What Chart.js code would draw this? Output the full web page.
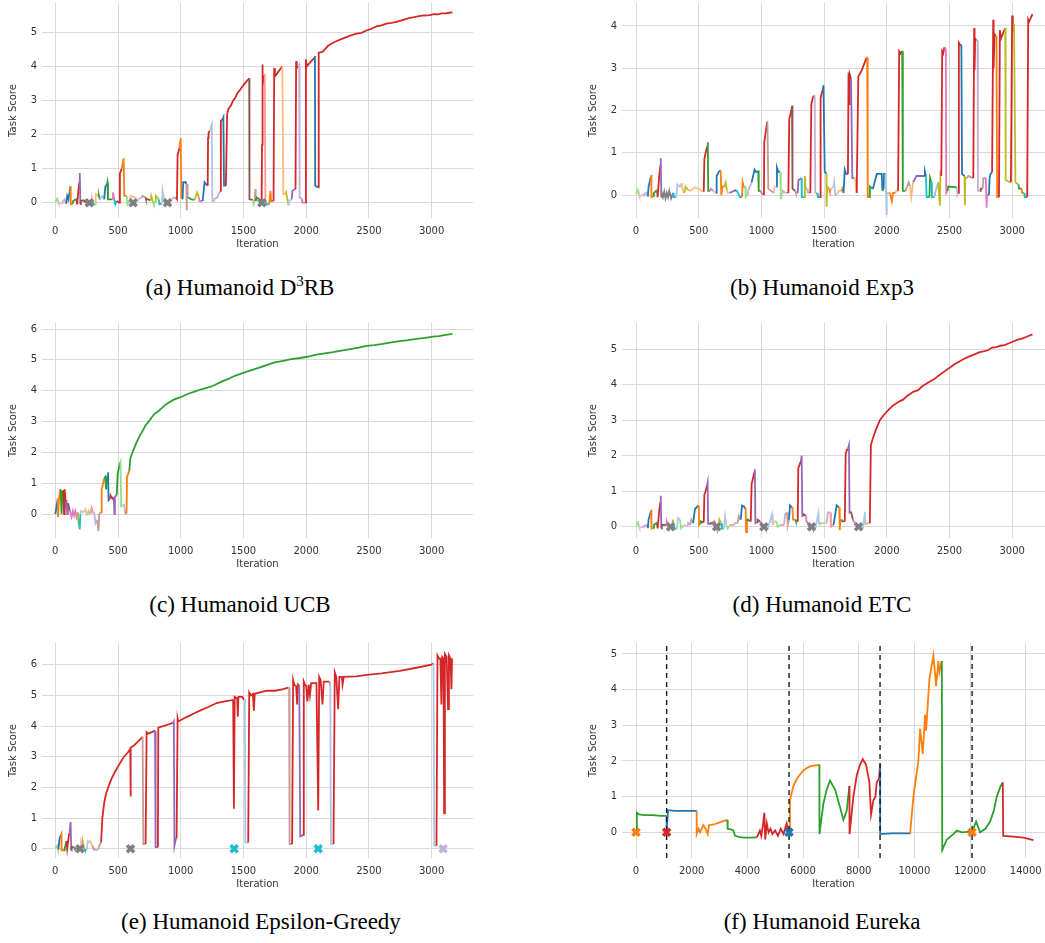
<!DOCTYPE html>
<html>
<head>
<meta charset="utf-8">
<script src="https://cdn.jsdelivr.net/npm/chart.js@4.4.1/dist/chart.umd.min.js"></script>
<style>
  html, body { margin: 0; padding: 0; background: #fff; overflow: hidden; width: 1045px; height: 943px; }
  canvas { position: absolute; }
  .cap { position: absolute; font-family: "Liberation Serif", "Times New Roman", serif; font-size: 23px; color: #000;
         white-space: nowrap; transform: translate(-50%, -50%); }
  .cap sup { font-size: 15px; vertical-align: 9px; line-height: 0; }
</style>
</head>
<body>
<div class="cap" style="left:240px;top:288px">(a) Humanoid D<sup>3</sup>RB</div>
<div class="cap" style="left:822px;top:288px">(b) Humanoid Exp3</div>
<div class="cap" style="left:240px;top:605px">(c) Humanoid UCB</div>
<div class="cap" style="left:822px;top:605px">(d) Humanoid ETC</div>
<div class="cap" style="left:261px;top:922px">(e) Humanoid Epsilon-Greedy</div>
<div class="cap" style="left:822px;top:922px">(f) Humanoid Eureka</div>
<script>
(function () {
  'use strict';

  // tab20 colours, indexed by arm id in the segment lists below
  const PALETTE = ['#1f77b4', '#aec7e8', '#ff7f0e', '#ffbb78', '#2ca02c', '#98df8a', '#d62728', '#ff9896',
    '#9467bd', '#c5b0d5', '#8c564b', '#c49c94', '#e377c2', '#f7b6d2', '#7f7f7f', '#c7c7c7',
    '#bcbd22', '#dbdb8d', '#17becf', '#9edae5'];

  const iterTicks = [0, 500, 1000, 1500, 2000, 2500, 3000];
  const eurekaTicks = [0, 2000, 4000, 6000, 8000, 10000, 12000, 14000];
  const score4 = [0, 1, 2, 3, 4];
  const score5 = [0, 1, 2, 3, 4, 5];
  const score6 = [0, 1, 2, 3, 4, 5, 6];

  // Each segment: [arm, [iter, score, iter, score, ...]] in training order.
  const aSegs = [
    [5, [0, 0.02, 15, 0.12, 25, 0.0]], [13, [28, -0.03, 45, 0.0, 55, -0.02]], [9, [58, 0.02, 75, 0.1, 85, -0.03]],
    [0, [88, 0.0, 95, 0.2, 105, 0.1, 120, 0.48]], [2, [122, 0.48, 124, -0.05, 140, -0.03]], [4, [142, 0.05, 165, 0.1, 172, 0.05]],
    [6, [174, -0.05, 185, 0.4, 193, 0.6]], [8, [195, 0.87, 200, -0.05]], [10, [203, 0.05, 225, 0.07, 245, 0.0]],
    [14, [248, 0.05, 270, -0.02, 290, 0.0]], [13, [292, 0.15, 300, 0.05]], [18, [303, -0.05, 320, -0.05]],
    [3, [322, 0.25, 345, 0.2]], [4, [347, 0.22, 355, 0.08]], [1, [358, 0.12, 375, 0.2, 390, 0.1]],
    [0, [395, 0.1, 398, 0.45, 412, 0.55]], [4, [415, 0.6, 420, 0.1, 455, 0.1]], [12, [460, 0.3, 470, 0.1]],
    [18, [478, -0.05, 490, 0.05]], [6, [510, 0.0, 515, 0.85, 530, 1.0]], [2, [535, 1.1, 545, 1.3, 550, 0.2, 570, 0.2]],
    [5, [575, -0.05, 595, 0.1]], [3, [600, 0.2, 640, 0.15]], [1, [650, 0.05, 680, 0.15, 690, 0.15]],
    [11, [695, 0.2, 720, 0.15]], [10, [722, 0.12, 760, 0.07]], [16, [765, 0.2, 780, 0.0]], [5, [785, -0.05, 800, 0.05]],
    [16, [802, 0.2, 825, 0.1]], [18, [830, -0.05, 850, -0.03]], [1, [855, 0.37, 870, 0.05]], [14, [875, 0.0, 905, 0.0]],
    [13, [910, 0.1, 935, 0.1]], [9, [940, 0.15, 960, 0.15]], [6, [970, 0.1, 975, 1.4, 990, 1.6]],
    [2, [995, 1.8, 1000, 1.9, 1005, 0.15, 1015, 0.1]], [0, [1020, 0.6, 1040, 0.6, 1045, 0.55]],
    [11, [1048, -0.22, 1050, 0.55, 1055, 0.15]], [4, [1060, 0.15, 1085, 0.1, 1110, 0.08]], [16, [1130, 0.3, 1145, 0.15]],
    [12, [1150, 0.05, 1175, 0.05]], [0, [1190, 0.6, 1200, 0.55, 1215, 0.5]], [6, [1218, 1.9, 1222, 2.05, 1232, 2.1]],
    [1, [1240, 2.2, 1248, 2.3, 1252, 0.05, 1262, 0.05]], [9, [1265, 0.1, 1290, 0.15, 1315, 0.35]],
    [6, [1320, 2.4, 1335, 2.45]], [0, [1340, 2.5, 1345, 0.5, 1360, 0.5]],
    [6, [1370, 2.6, 1380, 2.75, 1400, 2.85, 1418, 3.0, 1435, 3.08, 1450, 3.2, 1471, 3.3, 1490, 3.4, 1511, 3.5, 1530, 3.58, 1546, 3.65]],
    [10, [1548, 0.1, 1575, 0.08]], [5, [1580, -0.05, 1590, 0.05]], [11, [1594, 0.4, 1598, 0.05]],
    [4, [1605, 0.15, 1625, 0.1]], [14, [1630, 0.0, 1645, 0.0]], [6, [1648, 1.7, 1650, 4.05, 1655, 3.4, 1660, 3.75]],
    [7, [1670, 3.75, 1675, 0.05]], [18, [1685, -0.05, 1705, -0.05]], [2, [1715, 0.35, 1720, 0.05, 1740, 0.05]],
    [6, [1745, 3.95, 1750, 3.7, 1780, 3.85, 1810, 4.0]], [3, [1815, 4.0, 1818, 0.25, 1835, 0.25]],
    [16, [1840, 0.3, 1860, -0.08]], [1, [1865, 0.05, 1885, 0.1]], [8, [1890, 0.35, 1915, 0.4]],
    [6, [1920, 4.15, 1925, 3.95, 1935, 4.0]], [9, [1944, 4.05, 1948, 0.15, 1965, 0.12]], [12, [1970, 0.0, 1995, 0.0]],
    [6, [1998, 4.2, 2005, 4.0, 2040, 4.15, 2069, 4.25]], [0, [2070, 4.3, 2072, 0.5, 2096, 0.45]],
    [6, [2100, 4.4, 2130, 4.42, 2175, 4.6, 2230, 4.72, 2295, 4.82, 2350, 4.9, 2401, 4.96, 2440, 4.98, 2481, 5.05,
      2520, 5.1, 2560, 5.17, 2600, 5.2, 2640, 5.25, 2680, 5.27, 2720, 5.3, 2780, 5.37, 2826, 5.42, 2860, 5.44,
      2900, 5.47, 2940, 5.49, 2985, 5.5, 3020, 5.53, 3050, 5.52, 3080, 5.55, 3110, 5.55, 3140, 5.57, 3166, 5.58]]
  ];
  const aMarks = [[271, 14], [621, 14], [895, 14], [1647, 14]];

  const bSegs = [
    [5, [0, 0.02, 15, 0.12, 25, 0.0]], [13, [28, -0.03, 50, 0.0, 60, -0.02]], [9, [62, 0.02, 80, 0.05, 90, -0.02]],
    [0, [95, 0.0, 100, 0.2, 120, 0.45]], [2, [122, 0.48, 124, -0.05, 140, -0.03]], [4, [142, 0.05, 162, 0.1, 170, 0.05]],
    [6, [172, -0.05, 185, 0.45, 195, 0.7]], [8, [197, 0.87, 202, -0.05]],
    [14, [205, 0.05, 215, -0.05, 225, 0.08, 235, -0.08, 245, 0.05, 255, -0.05, 265, 0.1, 280, -0.08, 295, 0.05]],
    [18, [300, -0.05, 320, -0.05]], [1, [330, 0.25, 350, 0.2, 365, 0.28]], [3, [370, 0.15, 385, 0.05]],
    [16, [395, 0.2, 415, 0.12]], [3, [430, 0.1, 470, 0.18, 500, 0.15, 520, 0.1, 540, 0.08]],
    [6, [545, 0.85, 555, 1.0, 568, 1.15]], [4, [572, 1.25, 576, 0.1, 590, 0.1]], [12, [598, 0.15, 615, 0.1]],
    [13, [620, 0.1, 640, 0.05]], [0, [643, 0.45, 660, 0.55, 675, 0.58]], [2, [677, 0.58, 680, 0.0, 690, 0.2, 705, 0.2]],
    [16, [715, 0.3, 725, 0.1]], [13, [730, 0.05, 750, 0.05]], [8, [755, 0.05, 780, 0.1]], [10, [785, 0.1, 800, 0.12]],
    [18, [829, -0.05, 845, -0.05]], [2, [850, 0.3, 858, 0.2, 870, 0.2]], [5, [875, -0.05, 890, 0.0]],
    [9, [895, 0.1, 922, 0.3]], [0, [945, 0.6, 955, 0.55, 975, 0.55]], [4, [977, 0.58, 980, 0.1, 995, 0.1]],
    [12, [1000, 0.05, 1020, 0.0]], [6, [1023, 1.25, 1035, 1.5, 1045, 1.72]],
    [11, [1048, 1.75, 1055, 0.15, 1075, 0.1, 1100, 0.05]], [13, [1105, 0.2, 1120, 0.2]],
    [0, [1124, 0.65, 1135, 0.55, 1150, 0.55]], [5, [1155, -0.1, 1165, 0.05]], [9, [1170, 0.1, 1195, 0.05, 1215, 0.05]],
    [6, [1222, 1.8, 1235, 1.95, 1244, 2.1]], [10, [1246, 2.12, 1250, 0.15, 1270, 0.1]], [11, [1275, 0.05, 1290, 0.05]],
    [8, [1295, 0.35, 1320, 0.4]], [18, [1322, -0.05, 1340, -0.05]], [16, [1347, 0.45, 1352, 0.15, 1365, 0.15]],
    [9, [1370, 0.05, 1390, 0.05]], [6, [1398, 2.15, 1410, 2.3, 1419, 2.35]], [9, [1425, 2.35, 1430, 0.05, 1445, 0.05]],
    [18, [1450, -0.05, 1468, -0.05]], [6, [1472, 2.3, 1485, 2.45, 1490, 2.5]], [0, [1495, 2.6, 1505, 0.55, 1518, 0.5]],
    [16, [1520, -0.28, 1525, 0.2, 1540, 0.15]], [2, [1545, 0.1, 1555, 0.15]], [13, [1560, 0.15, 1575, 0.2]],
    [1, [1580, 0.3, 1590, 0.0, 1610, 0.05]], [3, [1615, 0.1, 1640, 0.1]], [2, [1645, 0.15, 1655, 0.05]],
    [0, [1665, 0.6, 1675, 0.5, 1690, 0.5]], [6, [1695, 2.9, 1700, 2.15, 1705, 2.85, 1715, 2.75]],
    [8, [1720, 2.75, 1725, 0.4, 1740, 0.4]], [3, [1745, 0.42, 1760, 0.05]], [6, [1773, 2.8, 1800, 2.95, 1839, 3.25]],
    [2, [1844, 3.25, 1848, -0.05, 1860, -0.05]], [4, [1865, 0.2, 1890, 0.15]], [0, [1920, 0.5, 1960, 0.5, 1965, 0.1]],
    [4, [1967, 0.1, 1975, 0.15]], [0, [1978, 0.5, 1990, 0.5]], [1, [1998, -0.45, 2000, 0.05, 2025, 0.05]],
    [2, [2040, -0.15, 2050, 0.05, 2070, 0.05]], [3, [2075, 0.1, 2090, 0.1]], [6, [2099, 3.4, 2110, 3.35, 2120, 3.4]],
    [4, [2123, 3.4, 2128, 0.1, 2150, 0.1]], [11, [2175, 0.3, 2185, 0.2]], [3, [2195, -0.05, 2210, 0.3]],
    [8, [2237, 0.45, 2290, 0.45, 2300, 0.45]], [0, [2304, 0.55, 2312, 0.45]], [18, [2318, -0.05, 2340, -0.05]],
    [4, [2345, 0.4, 2355, 0.3]], [18, [2360, -0.05, 2380, -0.05]], [9, [2390, 0.1, 2410, 0.3]],
    [16, [2424, -0.25, 2428, 0.5, 2435, 0.45]], [6, [2442, 3.4, 2450, 3.35, 2460, 3.5]],
    [12, [2471, 3.45, 2474, 0.05, 2485, 0.1]], [4, [2490, 0.2, 2560, 0.18]], [1, [2562, 0.0, 2570, 0.05]],
    [6, [2575, 3.6, 2585, 3.55, 2595, 3.55]], [0, [2597, 3.55, 2600, 0.5, 2620, 0.45]],
    [16, [2623, -0.25, 2626, 0.4, 2640, 0.4]], [11, [2650, 0.45, 2690, 0.4]],
    [6, [2697, 3.95, 2700, 2.95, 2705, 3.7, 2715, 3.65]], [9, [2724, 3.65, 2727, 0.1, 2745, 0.1]],
    [10, [2750, 0.15, 2765, 0.15]], [11, [2770, 0.4, 2790, 0.4]], [12, [2796, -0.3, 2800, 0.0, 2815, 0.0]],
    [0, [2820, 0.4, 2828, 0.5, 2840, 0.55]], [6, [2849, 4.15, 2852, 3.0, 2860, 3.8, 2870, 3.75]],
    [2, [2875, 3.75, 2880, -0.05, 2895, -0.05]], [6, [2902, 3.9, 2910, 3.7, 2930, 3.85, 2945, 3.95]],
    [16, [2947, 3.95, 2950, 0.35, 2990, 0.3]], [6, [3000, 4.25, 3005, 3.85, 3015, 4.05]],
    [16, [3022, 4.05, 3026, 0.3, 3050, 0.25]], [4, [3055, 0.15, 3075, 0.15]], [2, [3080, 0.05, 3095, 0.05]],
    [18, [3100, -0.05, 3120, -0.05]], [6, [3128, 4.15, 3135, 4.1, 3162, 4.28]]
  ];
  const bMarks = [];

  const cSegs = [
    [0, [0, 0.0, 20, 0.5]], [2, [22, -0.1, 30, 0.5, 42, 0.8]], [4, [45, 0.8, 50, 0.0, 57, 0.75]],
    [6, [65, 0.75, 70, 0.0, 75, 0.8, 85, 0.2]], [8, [90, 0.45, 95, 0.0, 100, 0.35]], [10, [105, 0.3, 115, 0.1]],
    [12, [120, 0.05, 130, -0.1, 140, 0.1, 150, -0.05, 160, 0.1, 170, -0.1, 180, 0.05]], [16, [185, -0.25, 190, -0.15]],
    [18, [195, -0.5, 200, 0.0]], [1, [205, 0.1, 225, 0.05]], [3, [240, 0.15, 255, -0.05]], [5, [265, 0.1, 280, 0.0]],
    [7, [290, 0.2, 300, 0.05, 310, 0.05]], [9, [320, -0.3, 335, -0.2]], [11, [345, -0.55, 350, 0.0, 358, 0.05]],
    [2, [365, 0.05, 370, 0.8, 390, 1.15]], [4, [398, 1.2, 405, 0.8, 415, 1.25]], [0, [420, 1.35, 425, 0.45, 435, 0.5]],
    [6, [440, 0.6, 455, 0.5, 465, 0.55]], [8, [472, 0.0, 475, 0.55, 490, 0.62]], [4, [497, 1.3, 505, 1.45, 515, 1.65]],
    [5, [520, 1.7, 525, 0.25, 540, 0.28]], [1, [548, 0.3, 558, 0.0]], [2, [568, 0.05, 572, 1.2, 590, 1.4]],
    [4, [598, 1.8, 620, 2.05, 645, 2.3, 675, 2.55, 700, 2.72, 720, 2.88, 754, 3.05, 790, 3.25, 821, 3.33, 855, 3.46,
      887, 3.57, 940, 3.7, 993, 3.78, 1060, 3.9, 1110, 3.97, 1153, 4.03, 1200, 4.08, 1259, 4.16, 1330, 4.3,
      1380, 4.38, 1418, 4.46, 1460, 4.52, 1500, 4.58, 1551, 4.65, 1620, 4.74, 1684, 4.83, 1750, 4.92, 1817, 4.97,
      1880, 5.02, 1950, 5.06, 2010, 5.1, 2082, 5.17, 2150, 5.21, 2215, 5.25, 2280, 5.3, 2350, 5.35, 2420, 5.4,
      2481, 5.45, 2545, 5.48, 2610, 5.52, 2680, 5.57, 2746, 5.61, 2810, 5.64, 2880, 5.68, 2950, 5.71, 3012, 5.75,
      3060, 5.77, 3100, 5.8, 3166, 5.84]]
  ];
  const cMarks = [];

  const dSegs = [
    [5, [0, 0.02, 15, 0.12, 25, 0.0]], [13, [28, -0.03, 50, 0.0, 60, -0.02]], [9, [62, 0.02, 80, 0.05, 90, -0.02]],
    [0, [95, 0.0, 100, 0.2, 120, 0.45]], [2, [122, 0.48, 124, -0.05, 140, -0.03]], [4, [142, 0.05, 162, 0.1, 170, 0.05]],
    [6, [172, -0.05, 185, 0.45, 195, 0.7]], [8, [197, 0.87, 202, -0.05]], [10, [205, 0.05, 240, 0.05]],
    [12, [245, 0.15, 255, 0.05]], [14, [260, 0.0, 290, 0.0]], [16, [293, 0.2, 300, 0.05]], [18, [305, -0.05, 325, -0.05]],
    [1, [335, 0.25, 350, 0.2]], [5, [360, -0.05, 380, 0.05]], [13, [385, 0.05, 410, 0.0]], [9, [415, 0.1, 430, 0.05]],
    [11, [440, 0.2, 455, 0.1]], [0, [470, 0.5, 485, 0.55, 497, 0.6]], [2, [500, 0.58, 503, 0.05, 515, 0.1]],
    [4, [518, 0.15, 540, 0.12]], [6, [545, 0.9, 555, 1.0, 565, 1.15]], [8, [571, 1.25, 575, 0.08, 590, 0.08]],
    [10, [595, 0.1, 620, 0.12]], [12, [625, 0.15, 640, 0.05]], [14, [643, 0.0, 660, 0.0]], [16, [665, 0.2, 680, 0.1]],
    [18, [685, -0.05, 700, -0.05]], [1, [710, 0.3, 720, 0.05]], [5, [730, -0.05, 750, 0.05]], [7, [760, 0.05, 780, 0.05]],
    [9, [790, 0.1, 810, 0.1]], [11, [820, 0.3, 835, 0.2]], [0, [845, 0.6, 860, 0.58, 870, 0.5]],
    [2, [874, 0.55, 878, -0.15, 885, 0.15]], [4, [890, 0.2, 915, 0.15]], [6, [922, 1.2, 935, 1.4, 945, 1.55]],
    [8, [948, 1.62, 952, 0.1, 965, 0.12]], [10, [970, 0.2, 990, 0.15]], [12, [995, 0.1, 1010, 0.05]],
    [14, [1015, 0.0, 1030, 0.0]], [18, [1035, -0.05, 1050, -0.05]], [1, [1085, 0.35, 1090, 0.05]],
    [3, [1100, 0.15, 1120, 0.15]], [5, [1130, 0.0, 1150, 0.05]], [7, [1160, 0.05, 1180, 0.05]],
    [9, [1190, 0.35, 1205, 0.4]], [11, [1210, 0.05, 1220, 0.2]], [0, [1228, 0.6, 1240, 0.55, 1246, 0.55]],
    [2, [1248, 0.5, 1252, 0.2, 1270, 0.2]], [4, [1275, 0.15, 1290, 0.15]], [6, [1294, 1.65, 1305, 1.75, 1315, 1.85]],
    [8, [1321, 2.0, 1326, 0.3, 1335, 0.3]], [10, [1340, 0.35, 1355, 0.3]], [12, [1360, 0.15, 1380, 0.05]],
    [14, [1385, 0.0, 1405, 0.0]], [18, [1410, -0.05, 1430, -0.05]], [1, [1455, 0.38, 1460, 0.05]],
    [5, [1470, 0.1, 1490, 0.1]], [3, [1495, 0.1, 1520, 0.1]], [9, [1530, 0.4, 1550, 0.4]], [7, [1555, 0.0, 1575, 0.05]],
    [0, [1600, 0.6, 1615, 0.55, 1621, 0.55]], [2, [1625, -0.1, 1630, 0.2, 1640, 0.2]], [4, [1645, 0.15, 1665, 0.15]],
    [6, [1672, 2.05, 1680, 2.15, 1690, 2.2]], [8, [1698, 2.3, 1703, 0.4, 1715, 0.42]], [10, [1720, 0.42, 1730, 0.2]],
    [12, [1735, 0.15, 1760, 0.05]], [14, [1765, 0.0, 1785, 0.0]], [18, [1790, -0.05, 1810, -0.05]],
    [1, [1826, 0.42, 1830, 0.05]], [3, [1845, 0.1, 1865, 0.1]],
    [6, [1873, 2.3, 1890, 2.5, 1915, 2.75, 1945, 3.0, 1970, 3.12, 1998, 3.24, 2050, 3.42, 2105, 3.54, 2130, 3.58,
      2160, 3.68, 2211, 3.8, 2250, 3.85, 2280, 3.95, 2344, 4.09, 2380, 4.16, 2410, 4.25, 2477, 4.42, 2510, 4.5,
      2540, 4.58, 2575, 4.65, 2610, 4.72, 2645, 4.78, 2680, 4.83, 2742, 4.92, 2780, 4.95, 2810, 4.98, 2840, 5.05,
      2875, 5.06, 2905, 5.1, 2940, 5.12, 2975, 5.17, 3008, 5.22, 3045, 5.27, 3080, 5.3, 3120, 5.36, 3162, 5.42]]
  ];
  const dMarks = [[275, 14], [643, 14], [1020, 14], [1400, 14], [1775, 14]];

  const eSegs = [
    [5, [0, 0.02, 15, 0.1, 20, 0.0]], [0, [25, 0.0, 35, 0.35, 45, 0.45]], [2, [48, 0.48, 50, -0.05, 70, -0.05]],
    [4, [75, 0.0, 90, 0.25]], [6, [95, 0.0, 110, 0.5]], [8, [115, 0.6, 122, 0.87, 127, -0.05]],
    [10, [130, 0.05, 150, 0.05]], [14, [155, 0.0, 200, 0.0]], [13, [205, 0.25, 215, 0.1]], [16, [220, 0.2, 230, 0.0]],
    [18, [235, -0.05, 250, -0.05]], [1, [260, 0.25, 275, 0.2]], [3, [280, 0.25, 295, 0.1]], [11, [300, 0.05, 320, -0.05]],
    [9, [325, -0.05, 345, 0.0]], [11, [350, 0.1, 365, 0.2]],
    [6, [369, 0.2, 375, 1.0, 390, 1.5, 405, 1.8, 422, 2.0, 445, 2.25, 475, 2.5, 510, 2.75, 547, 3.0, 575, 3.12,
      598, 3.25, 600, 1.7, 602, 3.3, 622, 3.35, 640, 3.42, 661, 3.5, 680, 3.58, 696, 3.65]],
    [11, [698, 3.65, 702, 0.15, 720, 0.15]], [6, [728, 3.8, 740, 3.75, 770, 3.8, 795, 3.85]],
    [8, [797, 3.85, 802, 0.05, 818, 0.05]], [6, [821, 3.95, 860, 4.0, 900, 4.05, 938, 4.1]],
    [8, [945, 4.15, 950, 0.1, 960, 0.3, 967, 0.35]],
    [6, [975, 4.25, 980, 4.15, 1050, 4.3, 1100, 4.4, 1153, 4.5, 1220, 4.62, 1286, 4.75, 1350, 4.8, 1418, 4.85,
      1424, 1.3, 1430, 4.95, 1450, 4.9, 1455, 4.3, 1460, 4.95, 1490, 4.95, 1505, 4.85]],
    [1, [1511, 4.9, 1515, 0.2, 1538, 0.2]],
    [6, [1546, 5.1, 1560, 5.0, 1575, 5.05, 1583, 4.5, 1590, 5.05, 1684, 5.15, 1750, 5.15, 1817, 5.2, 1857, 5.25]],
    [11, [1864, 5.25, 1868, 0.15, 1888, 0.15]],
    [6, [1896, 5.5, 1905, 5.35, 1920, 5.3, 1928, 4.7, 1935, 5.35, 1945, 5.3]],
    [8, [1949, 5.3, 1953, 0.4, 1975, 0.45]],
    [6, [1981, 5.45, 1990, 5.35, 2000, 5.3, 2010, 4.8, 2020, 5.35, 2030, 5.0, 2040, 5.4, 2082, 5.4, 2096, 1.25,
      2104, 5.6, 2115, 5.5, 2130, 4.7, 2140, 5.45, 2185, 5.45]],
    [11, [2189, 5.35, 2192, 5.3]], [1, [2194, 5.3, 2198, 0.15, 2218, 0.15]],
    [6, [2228, 5.75, 2240, 5.6, 2255, 4.55, 2265, 5.6, 2285, 5.6, 2290, 5.35, 2300, 5.6, 2400, 5.62, 2481, 5.67,
      2600, 5.72, 2746, 5.8, 2879, 5.9, 2999, 6.0, 3015, 6.05]],
    [1, [3017, 6.05, 3021, 0.1, 3039, 0.1]],
    [6, [3047, 6.3, 3060, 6.2, 3070, 6.2, 3078, 4.7, 3085, 6.25, 3095, 6.2, 3100, 1.15, 3106, 6.35, 3120, 6.25,
      3131, 4.55, 3138, 6.3, 3150, 6.2, 3158, 5.2, 3163, 6.2]]
  ];
  const eMarks = [[197, 14], [600, 14], [1426, 18], [2096, 18], [3092, 9]];

  // Eureka uses the plain tab10 colours (blue 0, orange 2, green 4, red 6)
  const fSegs = [
    [4, [0, 0.0, 30, 0.55, 100, 0.5, 300, 0.48, 600, 0.48, 900, 0.46, 1100, 0.46]],
    [0, [1100, 0.0, 1150, 0.62, 1400, 0.6, 1800, 0.6, 2180, 0.6]],
    [2, [2180, -0.05, 2250, 0.1, 2300, 0.0, 2419, 0.2, 2500, 0.1, 2575, -0.05, 2620, 0.2, 2800, 0.22, 3000, 0.28, 3281, 0.35]],
    [4, [3293, 0.1, 3400, 0.08, 3500, 0.05, 3557, -0.1, 3700, -0.13, 3856, -0.15, 4100, -0.15, 4335, -0.14]],
    [6, [4395, -0.05, 4450, 0.05, 4500, -0.1, 4560, 0.2, 4611, 0.55, 4640, -0.2, 4700, 0.25, 4760, 0.0, 4830, 0.1,
      4900, -0.05, 5000, 0.05, 5100, -0.1, 5200, 0.1, 5300, -0.05, 5413, 0.25, 5470, 0.05]],
    [2, [5497, 0.0, 5530, 0.9, 5653, 1.3, 5780, 1.5, 5892, 1.62, 6000, 1.72, 6132, 1.8, 6300, 1.86, 6491, 1.88, 6587, 1.9]],
    [4, [6590, -0.05, 6730, 0.8, 6850, 1.2, 6970, 1.45, 7150, 1.2, 7329, 0.7, 7449, 0.35, 7569, 0.6, 7665, 1.3]],
    [6, [7670, -0.05, 7808, 1.0, 7930, 1.6, 8048, 1.9, 8144, 2.05, 8263, 1.9, 8383, 1.4, 8443, 0.5, 8527, 0.9,
      8600, 1.0, 8647, 1.4, 8730, 1.5, 8766, 1.9]],
    [0, [8770, 1.9, 8775, -0.05, 9200, -0.03, 9600, -0.03, 9844, -0.03]],
    [2, [9850, 0.0, 9964, 1.0, 10144, 2.0, 10204, 2.9, 10300, 2.2, 10383, 3.3, 10420, 2.85, 10539, 4.3, 10683, 4.95,
      10779, 4.1, 10862, 4.8, 10900, 4.5, 10982, 4.8]],
    [4, [10985, 4.7, 11000, -0.5, 11162, -0.2, 11401, -0.05, 11521, 0.05, 11701, 0.0, 12000, 0.02, 12072, 0.0,
      12216, 0.3, 12359, 0.0, 12550, 0.1, 12719, 0.3, 12850, 0.6, 12958, 1.0, 13100, 1.3, 13174, 1.4]],
    [6, [13180, 1.4, 13190, -0.1, 13557, -0.12, 13916, -0.15, 14275, -0.22]]
  ];
  const fMarks = [[0, 2], [1100, 6], [5497, 0], [12072, 2]];
  const fSwitches = [1100, 5497, 8766, 12072];

  const FONT = '"DejaVu Sans", Verdana, sans-serif';
  const INK = '#333333';
  const GRID = '#d9d9d9';

  function makePanel(p) {
    const [L, T, R, B] = p.area;
    const cx = L - 42, cy = T - 14, w = R - cx, h = B + 34 - cy;
    const cv = document.createElement('canvas');
    cv.width = w; cv.height = h;
    cv.style.left = cx + 'px'; cv.style.top = cy + 'px';
    cv.style.width = w + 'px'; cv.style.height = h + 'px';
    document.body.appendChild(cv);

    const datasets = [];
    let prev = null;
    p.segs.forEach(([arm, flat]) => {
      const data = prev ? [prev] : [];
      for (let k = 0; k < flat.length; k += 2) data.push({ x: flat[k], y: flat[k + 1] });
      prev = data[data.length - 1];
      datasets.push({ data, showLine: true, borderColor: PALETTE[arm], borderWidth: 1.8, pointRadius: 0,
        pointHoverRadius: 0, tension: 0 });
    });
    (p.switches || []).forEach((x) => {
      datasets.push({ data: [{ x, y: p.y[0] }, { x, y: p.y[1] }], showLine: true, borderColor: '#1a1a1a',
        borderWidth: 1.4, borderDash: [5, 4], pointRadius: 0, pointHoverRadius: 0 });
    });
    p.marks.forEach(([x, arm]) => {
      datasets.push({ data: [{ x, y: 0 }], showLine: false, pointStyle: 'crossRot', pointRadius: 5,
        pointBorderWidth: 3.5, pointBorderColor: PALETTE[arm], pointBackgroundColor: PALETTE[arm] });
    });
    // later datasets on top, like matplotlib
    datasets.forEach((d, i) => { d.order = -i; });

    const tickFont = { family: FONT, size: 10 };
    const useTicks = (vals) => (s) => { s.ticks = vals.map((v) => ({ value: v })); };
    new Chart(cv, {
      type: 'scatter',
      data: { datasets },
      options: {
        responsive: false, animation: false, devicePixelRatio: 1,
        // no auto padding: the marker sizes would otherwise shrink the plot area
        layout: { autoPadding: false, padding: { left: 0, top: 14, right: 0, bottom: 0 } },
        plugins: { legend: { display: false }, tooltip: { enabled: false } },
        scales: {
          x: {
            type: 'linear', min: p.x[0], max: p.x[1],
            afterBuildTicks: useTicks(p.xTicks),
            afterFit: (s) => { s.height = 34; s.paddingLeft = 0; s.paddingRight = 0; },
            grid: { color: GRID, lineWidth: 1, drawTicks: false },
            border: { display: false },
            ticks: { padding: 7, color: INK, font: tickFont, maxRotation: 0, autoSkip: false,
              callback: (v) => String(v) },
            title: { display: true, text: 'Iteration', color: INK, font: tickFont, padding: { top: 0, bottom: 2 } }
          },
          y: {
            type: 'linear', min: p.y[0], max: p.y[1],
            afterBuildTicks: useTicks(p.yTicks),
            afterFit: (s) => { s.width = 42; s.paddingTop = 0; s.paddingBottom = 0; },
            grid: { color: GRID, lineWidth: 1, drawTicks: false },
            border: { display: false },
            ticks: { padding: 5, color: INK, font: tickFont, autoSkip: false, callback: (v) => String(v) },
            title: { display: true, text: 'Task Score', color: INK, font: tickFont, padding: { top: 7, bottom: 0 } }
          }
        }
      }
    });
  }

  makePanel({ segs: aSegs, marks: aMarks, area: [42, 3, 473, 218], x: [-106, 3330], xTicks: iterTicks,
    y: [-0.449, 5.856], yTicks: score5 });
  makePanel({ segs: bSegs, marks: bMarks, area: [622, 3, 1045, 218], x: [-112, 3262], xTicks: iterTicks,
    y: [-0.544, 4.544], yTicks: score4 });
  makePanel({ segs: cSegs, marks: cMarks, area: [42, 323, 473, 538], x: [-106, 3330], xTicks: iterTicks,
    y: [-0.778, 6.195], yTicks: score6 });
  makePanel({ segs: dSegs, marks: dMarks, area: [622, 323, 1045, 538], x: [-112, 3262], xTicks: iterTicks,
    y: [-0.318, 5.741], yTicks: score5 });
  makePanel({ segs: eSegs, marks: eMarks, area: [42, 643, 473, 858], x: [-106, 3330], xTicks: iterTicks,
    y: [-0.303, 6.707], yTicks: score6 });
  makePanel({ segs: fSegs, marks: fMarks, switches: fSwitches, area: [622, 643, 1045, 858], x: [-503, 14691],
    xTicks: eurekaTicks, y: [-0.72, 5.307], yTicks: score5 });
})();
</script>
</body>
</html>
